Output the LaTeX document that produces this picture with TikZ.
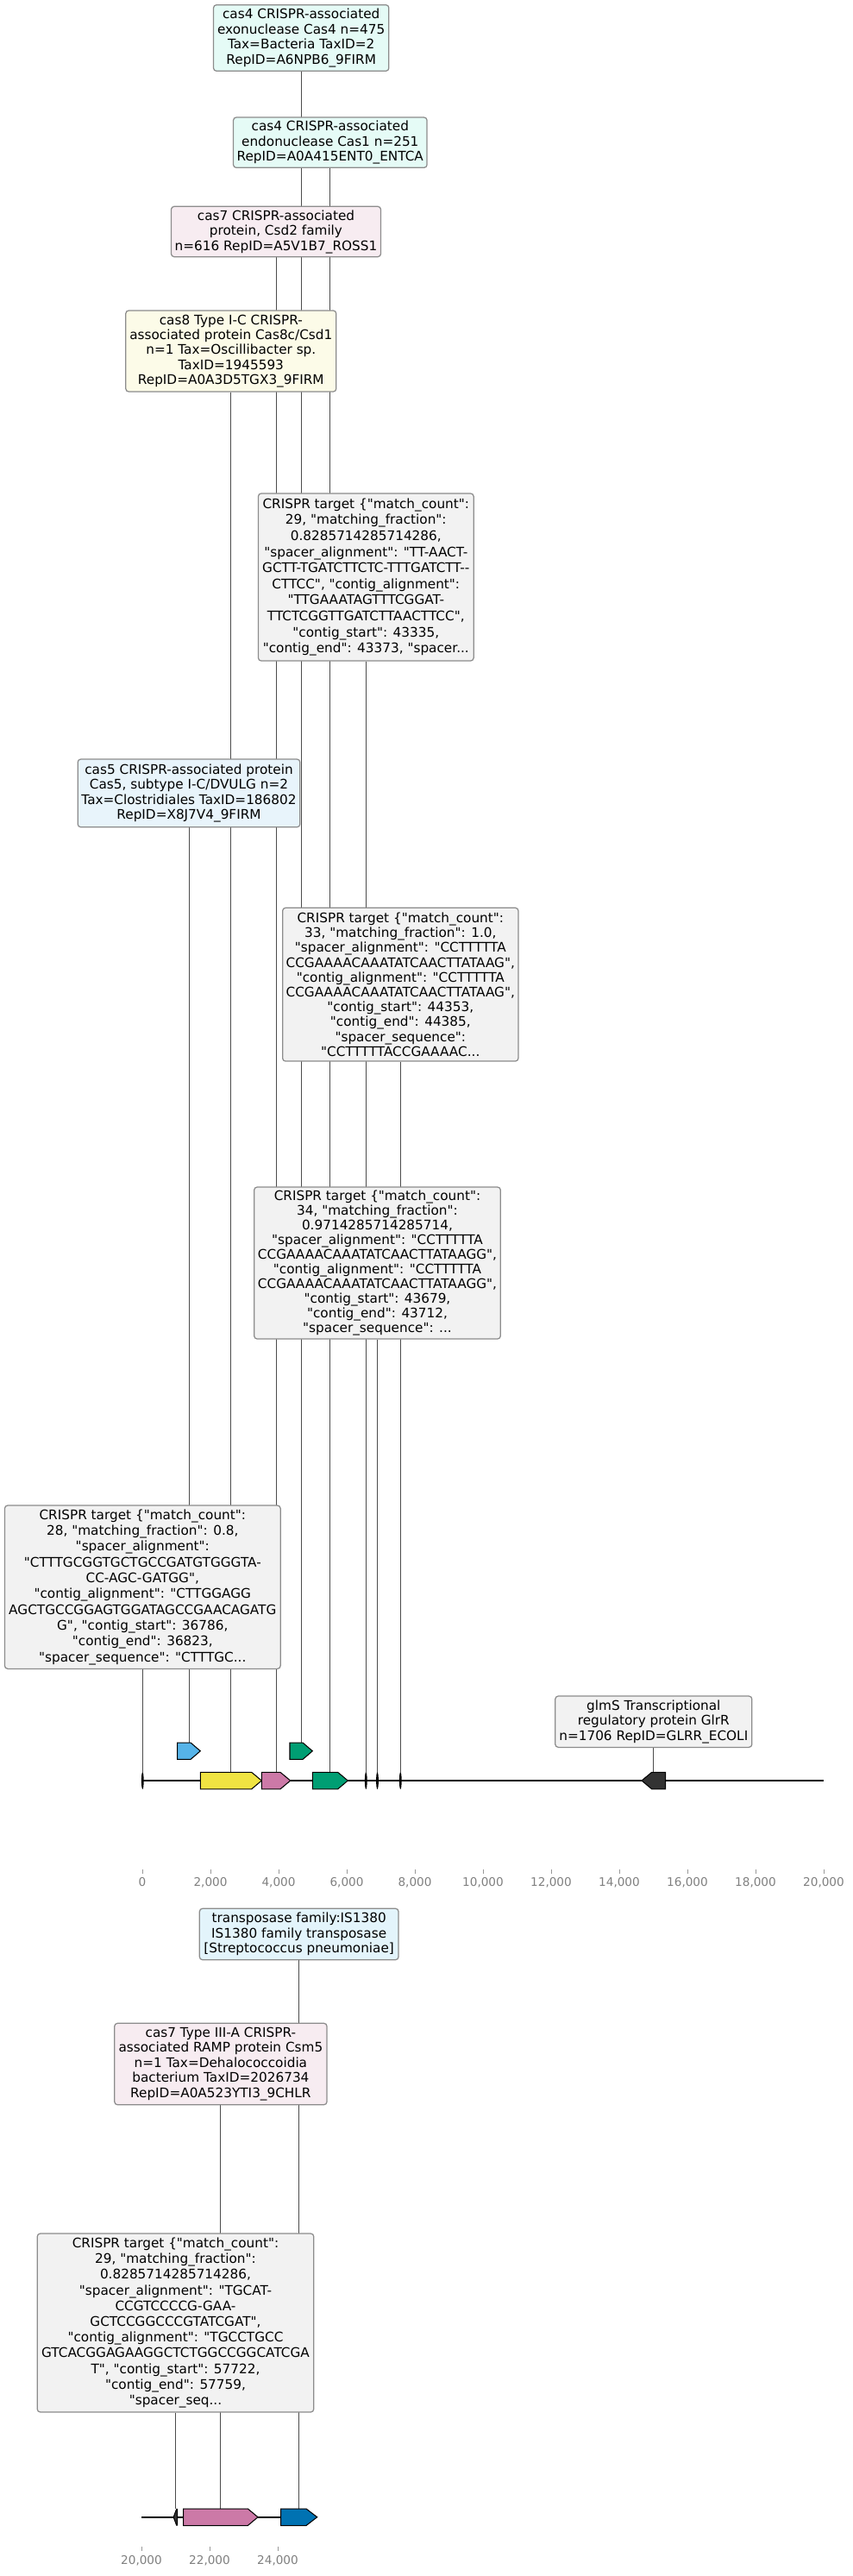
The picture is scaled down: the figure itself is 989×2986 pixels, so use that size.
\documentclass[tikz,border=0pt]{standalone}
\usepackage{fontspec}
\setmainfont{DejaVu Sans}[Ligatures=TeXOff]
\usetikzlibrary{backgrounds}
\definecolor{mint}{HTML}{E5FBF6}
\definecolor{rosy}{HTML}{F7ECF1}
\definecolor{cream}{HTML}{FCFBE8}
\definecolor{paleblue}{HTML}{E8F4FB}
\definecolor{skyish}{HTML}{E3F4FB}
\definecolor{boxgray}{HTML}{F2F2F2}
\definecolor{yel}{HTML}{F0E442}
\definecolor{pnk}{HTML}{CC79A7}
\definecolor{grn}{HTML}{009E73}
\definecolor{sky}{HTML}{56B4E9}
\definecolor{blu}{HTML}{0072B2}
\definecolor{dark}{HTML}{333333}
\begin{document}
\begin{tikzpicture}[x=0.72pt,y=-0.72pt,
  lbl/.style={draw=black!45,line width=0.9pt,rounded corners=2.5pt,align=center,inner sep=0pt,font=\fontsize{11}{#1}\selectfont},
  lbl/.default=12.6,
  gene/.style={draw=black,line width=0.75pt},
  link/.style={draw=black!70,line width=0.7pt},
  axtick/.style={draw=black!40,line width=0.7pt},
  axlbl/.style={text=black!50,font=\fontsize{9.8}{11}\selectfont}]
\useasboundingbox (0,0) rectangle (989,2986);

\coordinate (gblue) at (219,2020);
\coordinate (gsm) at (349.2,2020);
\coordinate (gyel) at (267.8,2054.3);
\coordinate (gpink) at (320,2054.3);
\coordinate (gbig) at (382.8,2054.3);
\coordinate (gdark) at (757.8,2054.3);
\coordinate (cr1) at (165.3,2054);
\coordinate (cr2) at (424.3,2054);
\coordinate (cr3) at (437.5,2054);
\coordinate (cr4) at (464.3,2054);
\coordinate (crE) at (203.5,2908);
\coordinate (gcsm) at (255.9,2908);
\coordinate (gtnp) at (346.7,2908);

\node[lbl=12.7,fill=mint,minimum width=146.4pt,minimum height=55.2pt] (exo) at (349.2,44) {cas4 CRISPR-associated\\exonuclease Cas4 n=475\\Tax=Bacteria TaxID=2\\RepID=A6NPB6\_9FIRM};
\node[lbl,fill=mint,minimum width=161.7pt,minimum height=42pt] (endo) at (382.8,165.2) {cas4 CRISPR-associated\\endonuclease Cas1 n=251\\RepID=A0A415ENT0\_ENTCA};
\node[lbl,fill=rosy,minimum width=175pt,minimum height=42pt] (csd) at (320,268.5) {cas7 CRISPR-associated\\protein, Csd2 family\\n=616 RepID=A5V1B7\_ROSS1};
\node[lbl=12.5,fill=cream,minimum width=175.7pt,minimum height=67.7pt] (cse) at (267.8,407) {cas8 Type I-C CRISPR-\\associated protein Cas8c/Csd1\\n=1 Tax=Oscillibacter sp.\\TaxID=1945593\\RepID=A0A3D5TGX3\_9FIRM};
\node[lbl=13.4,fill=boxgray,minimum width=179.8pt,minimum height=139.7pt] (tgtA) at (424.3,669) {CRISPR target \{"match\_count":\\29, "matching\_fraction":\\0.8285714285714286,\\"spacer\_alignment": "TT-AACT-\\GCTT-TGATCTTCTC-TTTGATCTT-{}-\\CTTCC", "contig\_alignment":\\"TTGAAATAGTTTCGGAT-\\TTCTCGGTTGATCTTAACTTCC",\\"contig\_start": 43335,\\"contig\_end": 43373, "spacer...};
\node[lbl,fill=paleblue,minimum width=185.5pt,minimum height=56.7pt] (csf) at (219,919.4) {cas5 CRISPR-associated protein\\Cas5, subtype I-C/DVULG n=2\\Tax=Clostridiales TaxID=186802\\RepID=X8J7V4\_9FIRM};
\node[lbl=12.4,fill=boxgray,minimum width=196.8pt,minimum height=128pt] (tgtB) at (464.3,1141.2) {CRISPR target \{"match\_count":\\33, "matching\_fraction": 1.0,\\"spacer\_alignment": "CCTTTTTA\\CCGAAAACAAATATCAACTTATAAG",\\"contig\_alignment": "CCTTTTTA\\CCGAAAACAAATATCAACTTATAAG",\\"contig\_start": 44353,\\"contig\_end": 44385,\\"spacer\_sequence":\\"CCTTTTTACCGAAAAC...};
\node[lbl=12.2,fill=boxgray,minimum width=205.7pt,minimum height=126.7pt] (tgtC) at (437.5,1464) {CRISPR target \{"match\_count":\\34, "matching\_fraction":\\0.9714285714285714,\\"spacer\_alignment": "CCTTTTTA\\CCGAAAACAAATATCAACTTATAAGG",\\"contig\_alignment": "CCTTTTTA\\CCGAAAACAAATATCAACTTATAAGG",\\"contig\_start": 43679,\\"contig\_end": 43712,\\"spacer\_sequence": ...};
\node[lbl=13.2,fill=boxgray,minimum width=230.2pt,minimum height=136.3pt] (tgtD) at (165.3,1839.7) {CRISPR target \{"match\_count":\\28, "matching\_fraction": 0.8,\\"spacer\_alignment":\\"CTTTGCGGTGCTGCCGATGTGGGTA-\\CC-AGC-GATGG",\\"contig\_alignment": "CTTGGAGG\\AGCTGCCGGAGTGGATAGCCGAACAGATG\\G", "contig\_start": 36786,\\"contig\_end": 36823,\\"spacer\_sequence": "CTTTGC...};
\node[lbl,fill=boxgray,minimum width=164.2pt,minimum height=42.7pt] (glms) at (757.8,1995.7) {glmS Transcriptional\\regulatory protein GlrR\\n=1706 RepID=GLRR\_ECOLI};

\node[lbl,fill=skyish,minimum width=166.1pt,minimum height=42.8pt] (tnp) at (346.7,2242) {transposase family:IS1380\\IS1380 family transposase\\{[}Streptococcus pneumoniae{]}};
\node[lbl=12.6,fill=rosy,minimum width=177.3pt,minimum height=68pt] (csm) at (255.9,2392.5) {cas7 Type III-A CRISPR-\\associated RAMP protein Csm5\\n=1 Tax=Dehalococcoidia\\bacterium TaxID=2026734\\RepID=A0A523YTI3\_9CHLR};
\node[lbl=13.1,fill=boxgray,minimum width=230.8pt,minimum height=149pt] (tgtE) at (203.5,2692.5) {CRISPR target \{"match\_count":\\29, "matching\_fraction":\\0.8285714285714286,\\"spacer\_alignment": "TGCAT-\\CCGTCCCCG-GAA-\\GCTCCGGCCCGTATCGAT",\\"contig\_alignment": "TGCCTGCC\\GTCACGGAGAAGGCTCTGGCCGGCATCGA\\T", "contig\_start": 57722,\\"contig\_end": 57759,\\"spacer\_seq...};

\begin{scope}[on background layer]
\draw[link] (exo.south) -- (gsm);
\draw[link] (endo.south) -- (gbig);
\draw[link] (csd.south) -- (gpink);
\draw[link] (cse.south) -- (gyel);
\draw[link] (csf.south) -- (gblue);
\draw[link] (tgtA.south) -- (cr2);
\draw[link] (tgtB.south) -- (cr4);
\draw[link] (tgtC.south) -- (cr3);
\draw[link] (tgtD.south) -- (cr1);
\draw[link] (glms.south) -- (gdark);
\draw[link] (tnp.south) -- (gtnp);
\draw[link] (csm.south) -- (gcsm);
\draw[link] (tgtE.south) -- (crE);
\end{scope}

\draw[line width=1.5pt] (165,2064) -- (955,2064);
\filldraw[gene,fill=sky] (205.7,2020) -- (221,2020) -- (232.3,2029.7) -- (221,2039.4) -- (205.7,2039.4) -- cycle;
\filldraw[gene,fill=grn] (336,2020) -- (351,2020) -- (362.3,2029.7) -- (351,2039.4) -- (336,2039.4) -- cycle;
\filldraw[gene,fill=yel] (232.3,2054.3) -- (291.7,2054.3) -- (303.3,2064) -- (291.7,2073.8) -- (232.3,2073.8) -- cycle;
\filldraw[gene,fill=pnk] (303.3,2054.3) -- (325,2054.3) -- (336.7,2064) -- (325,2073.8) -- (303.3,2073.8) -- cycle;
\filldraw[gene,fill=grn] (362.3,2054.3) -- (391.7,2054.3) -- (403.3,2064) -- (391.7,2073.8) -- (362.3,2073.8) -- cycle;
\filldraw[gene,fill=dark] (771.7,2054.3) -- (755.7,2054.3) -- (744,2064) -- (755.7,2073.8) -- (771.7,2073.8) -- cycle;
\foreach \c in {165.3,424.3,437.5,464.3}
  \fill (\c,2064) ellipse (1pt and 7.2pt);

\foreach \k/\t in {0/0,1/{2,000},2/{4,000},3/{6,000},4/{8,000},5/{10,000},6/{12,000},7/{14,000},8/{16,000},9/{18,000},10/{20,000}} {
  \draw[axtick] ({165+79*\k},2166.5) -- ++(0,5);
  \node[axlbl] (ta\k) at ({165+79*\k},2182) {\t};
}

\draw[line width=1.5pt] (164,2917.7) -- (367,2917.7);
\filldraw[gene,fill=dark] (205.6,2908.5) -- (204.6,2908.5) -- (201.2,2917.7) -- (204.6,2927) -- (205.6,2927) -- cycle;
\filldraw[gene,fill=pnk] (212.7,2908) -- (287.3,2908) -- (299,2917.7) -- (287.3,2927.5) -- (212.7,2927.5) -- cycle;
\filldraw[gene,fill=blu] (325.7,2908) -- (355,2908) -- (367.7,2917.7) -- (355,2927.5) -- (325.7,2927.5) -- cycle;

\foreach \k/\t in {0/{20,000},1/{22,000},2/{24,000}} {
  \draw[axtick] ({164+79*\k},2951.5) -- ++(0,5);
  \node[axlbl] (tb\k) at ({164+79*\k},2968) {\t};
}
\end{tikzpicture}
\end{document}
